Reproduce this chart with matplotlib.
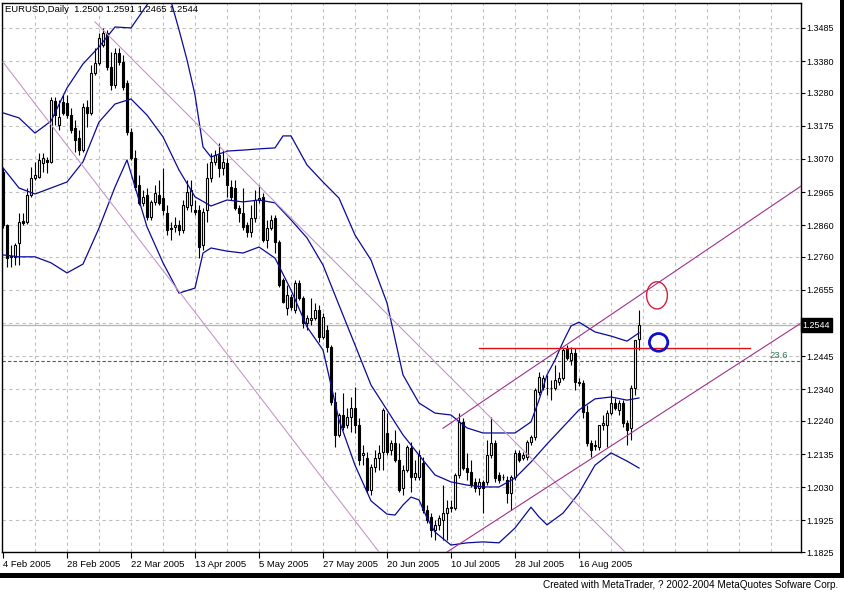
import matplotlib
matplotlib.use('Agg')
import matplotlib.pyplot as plt
from matplotlib.patches import Ellipse, Rectangle

plt.rcParams['font.family'] = ['Liberation Sans', 'DejaVu Sans']

# EURUSD daily, 4 Feb 2005 .. 25 Aug 2005 (bar index 0..159)
opens = [1.3029, 1.2861, 1.2760, 1.2760, 1.2804, 1.2874, 1.2870, 1.2956, 1.3010, 1.3013,
         1.3057, 1.3067, 1.3061, 1.3254, 1.3178, 1.3251, 1.3247, 1.3209, 1.3168, 1.3136,
         1.3098, 1.3235, 1.3216, 1.3342, 1.3374, 1.3431, 1.3469, 1.3361, 1.3304, 1.3406,
         1.3377, 1.3311, 1.3155, 1.3074, 1.2988, 1.2931, 1.2956, 1.2886, 1.2934, 1.2956,
         1.2946, 1.2899, 1.2851, 1.2855, 1.2861, 1.2845, 1.2918, 1.2924, 1.2909, 1.2909,
         1.2797, 1.2909, 1.3010, 1.3061, 1.3083, 1.3042, 1.3057, 1.2981, 1.2978, 1.2915,
         1.2899, 1.2861, 1.2839, 1.2883, 1.2940, 1.2949, 1.2813, 1.2851, 1.2883, 1.2807,
         1.2687, 1.2598, 1.2633, 1.2592, 1.2677, 1.2630, 1.2550, 1.2560, 1.2566, 1.2592,
         1.2506, 1.2528, 1.2474, 1.2300, 1.2196, 1.2259, 1.2227, 1.2252, 1.2281, 1.2227,
         1.2132, 1.2123, 1.2021, 1.2094, 1.2123, 1.2142, 1.2202, 1.2148, 1.2170, 1.2116,
         1.2028, 1.2085, 1.2154, 1.2063, 1.2063, 1.2107, 1.1958, 1.1936, 1.1895, 1.1910,
         1.1926, 1.1948, 1.1964, 1.1964, 1.2069, 1.2237, 1.2091, 1.2078, 1.2047, 1.2028,
         1.2047, 1.2047, 1.2132, 1.2170, 1.2069, 1.2063, 1.2053, 1.2012, 1.2063, 1.2139,
         1.2123, 1.2126, 1.2173, 1.2189, 1.2332, 1.2348, 1.2345, 1.2345, 1.2345, 1.2364,
         1.2376, 1.2471, 1.2433, 1.2455, 1.2364, 1.2360, 1.2268, 1.2170, 1.2164, 1.2158,
         1.2227, 1.2227, 1.2265, 1.2297, 1.2275, 1.2297, 1.2234, 1.2218, 1.2345, 1.2500]
highs = [1.3042, 1.2863, 1.2797, 1.2804, 1.2899, 1.2899, 1.2978, 1.3045, 1.3061, 1.3089,
         1.3089, 1.3077, 1.3266, 1.3266, 1.3257, 1.3273, 1.3273, 1.3231, 1.3194, 1.3162,
         1.3247, 1.3257, 1.3368, 1.3422, 1.3469, 1.3485, 1.3479, 1.3409, 1.3422, 1.3422,
         1.3399, 1.3320, 1.3168, 1.3098, 1.3019, 1.2972, 1.2978, 1.2940, 1.2988, 1.3004,
         1.3042, 1.2924, 1.2870, 1.2886, 1.2877, 1.2940, 1.3004, 1.3004, 1.2940, 1.2924,
         1.2915, 1.3057, 1.3089, 1.3098, 1.3121, 1.3098, 1.3074, 1.3004, 1.3004, 1.2924,
         1.2978, 1.2870, 1.2924, 1.2972, 1.2988, 1.2962, 1.2877, 1.2893, 1.2893, 1.2813,
         1.2693, 1.2671, 1.2642, 1.2687, 1.2687, 1.2636, 1.2576, 1.2630, 1.2614, 1.2607,
         1.2582, 1.2544, 1.2481, 1.2332, 1.2265, 1.2329, 1.2281, 1.2316, 1.2348, 1.2249,
         1.2164, 1.2142, 1.2105, 1.2148, 1.2164, 1.2281, 1.2265, 1.2180, 1.2211, 1.2170,
         1.2100, 1.2164, 1.2173, 1.2116, 1.2148, 1.2126, 1.1974, 1.1948, 1.1926, 1.1942,
         1.2037, 1.1990, 1.1990, 1.2075, 1.2265, 1.2249, 1.2139, 1.2116, 1.2059, 1.2059,
         1.2053, 1.2180, 1.2252, 1.2180, 1.2078, 1.2072, 1.2066, 1.2069, 1.2148, 1.2148,
         1.2142, 1.2180, 1.2196, 1.2345, 1.2395, 1.2386, 1.2386, 1.2370, 1.2417, 1.2395,
         1.2471, 1.2481, 1.2474, 1.2471, 1.2376, 1.2370, 1.2291, 1.2180, 1.2180, 1.2227,
         1.2259, 1.2275, 1.2338, 1.2313, 1.2306, 1.2306, 1.2243, 1.2354, 1.2497, 1.2591]
lows = [1.2851, 1.2728, 1.2728, 1.2734, 1.2734, 1.2861, 1.2864, 1.2949, 1.3004, 1.3010,
        1.3029, 1.3026, 1.3057, 1.3178, 1.3162, 1.3209, 1.3200, 1.3152, 1.3092, 1.3083,
        1.3092, 1.3172, 1.3209, 1.3336, 1.3368, 1.3425, 1.3352, 1.3289, 1.3295, 1.3368,
        1.3289, 1.3146, 1.3067, 1.2972, 1.2924, 1.2921, 1.2877, 1.2877, 1.2924, 1.2924,
        1.2893, 1.2830, 1.2813, 1.2839, 1.2830, 1.2836, 1.2909, 1.2902, 1.2893, 1.2756,
        1.2782, 1.2870, 1.2997, 1.3051, 1.3013, 1.3019, 1.2949, 1.2940, 1.2909, 1.2870,
        1.2845, 1.2823, 1.2823, 1.2870, 1.2931, 1.2807, 1.2788, 1.2845, 1.2772, 1.2664,
        1.2614, 1.2576, 1.2592, 1.2582, 1.2623, 1.2535, 1.2528, 1.2544, 1.2560, 1.2490,
        1.2500, 1.2459, 1.2291, 1.2158, 1.2189, 1.2211, 1.2218, 1.2205, 1.2202, 1.2100,
        1.2100, 1.2012, 1.2005, 1.2078, 1.2085, 1.2085, 1.2132, 1.2132, 1.2110, 1.2015,
        1.2005, 1.2078, 1.2015, 1.2053, 1.2053, 1.1948, 1.1917, 1.1872, 1.1863, 1.1895,
        1.1863, 1.1863, 1.1952, 1.1958, 1.2059, 1.2085, 1.2053, 1.2031, 1.2015, 1.2005,
        1.1948, 1.2037, 1.2123, 1.2047, 1.2044, 1.2053, 1.1980, 1.1958, 1.2053, 1.2110,
        1.2116, 1.2116, 1.2164, 1.2180, 1.2322, 1.2338, 1.2322, 1.2306, 1.2338, 1.2354,
        1.2370, 1.2433, 1.2417, 1.2338, 1.2351, 1.2249, 1.2161, 1.2126, 1.2148, 1.2148,
        1.2211, 1.2158, 1.2259, 1.2275, 1.2259, 1.2221, 1.2164, 1.2180, 1.2322, 1.2465]
closes = [1.2861, 1.2756, 1.2763, 1.2797, 1.2870, 1.2867, 1.2956, 1.3010, 1.3019, 1.3067,
          1.3074, 1.3061, 1.3257, 1.3209, 1.3203, 1.3216, 1.3209, 1.3162, 1.3130, 1.3098,
          1.3235, 1.3216, 1.3342, 1.3374, 1.3453, 1.3469, 1.3361, 1.3304, 1.3406, 1.3377,
          1.3298, 1.3155, 1.3074, 1.2981, 1.2931, 1.2949, 1.2886, 1.2934, 1.2962, 1.2931,
          1.2909, 1.2845, 1.2849, 1.2861, 1.2845, 1.2924, 1.2965, 1.2972, 1.2902, 1.2791,
          1.2902, 1.3010, 1.3061, 1.3083, 1.3042, 1.3061, 1.2988, 1.2949, 1.2915, 1.2899,
          1.2855, 1.2839, 1.2883, 1.2940, 1.2946, 1.2813, 1.2851, 1.2877, 1.2807, 1.2671,
          1.2617, 1.2639, 1.2601, 1.2677, 1.2630, 1.2550, 1.2566, 1.2566, 1.2592, 1.2506,
          1.2569, 1.2474, 1.2300, 1.2196, 1.2259, 1.2221, 1.2252, 1.2281, 1.2227, 1.2116,
          1.2139, 1.2021, 1.2094, 1.2123, 1.2139, 1.2275, 1.2142, 1.2170, 1.2116, 1.2021,
          1.2085, 1.2158, 1.2063, 1.2075, 1.2132, 1.1958, 1.1926, 1.1895, 1.1910, 1.1933,
          1.1948, 1.1964, 1.1967, 1.2069, 1.2237, 1.2091, 1.2078, 1.2037, 1.2028, 1.2047,
          1.2028, 1.2132, 1.2170, 1.2059, 1.2053, 1.2061, 1.2012, 1.2063, 1.2139, 1.2116,
          1.2132, 1.2173, 1.2189, 1.2338, 1.2379, 1.2376, 1.2343, 1.2343, 1.2370, 1.2376,
          1.2465, 1.2440, 1.2455, 1.2364, 1.2360, 1.2268, 1.2170, 1.2148, 1.2162, 1.2227,
          1.2234, 1.2265, 1.2297, 1.2281, 1.2297, 1.2234, 1.2211, 1.2345, 1.2497, 1.2544]

# Bollinger bands, read at selected bars
bb_up_idx = [0, 4, 8, 12, 16, 20, 24, 28, 32, 36, 40, 42, 44, 46, 48, 50, 52, 56, 60, 64, 68, 70, 72,
             76, 80, 84, 88, 92, 96, 100, 104, 108, 112, 116, 120, 124, 128, 132, 134, 136, 138,
             140, 142, 144, 148, 152, 156, 159]
bb_up = [1.3216, 1.3200, 1.3152, 1.3190, 1.3295, 1.3371, 1.3425, 1.3488, 1.3485, 1.3558, 1.3660,
         1.3570, 1.3479, 1.3384, 1.3273, 1.3108, 1.3076, 1.3095, 1.3098, 1.3102, 1.3105, 1.3143,
         1.3143, 1.3051, 1.2997, 1.2946, 1.2829, 1.2750, 1.2614, 1.2386, 1.2297, 1.2265, 1.2259,
         1.2218, 1.2202, 1.2202, 1.2202, 1.2237, 1.2306, 1.2386, 1.2433, 1.2490, 1.2541, 1.2553,
         1.2522, 1.2509, 1.2493, 1.2519]
bb_mid_idx = [0, 4, 8, 12, 16, 20, 24, 28, 32, 36, 40, 44, 48, 52, 56, 60, 64, 68, 72, 76, 80, 84,
              88, 92, 96, 100, 104, 108, 112, 116, 120, 124, 128, 132, 136, 140, 144, 148, 152, 156, 159]
bb_mid = [1.3042, 1.2978, 1.2959, 1.2978, 1.2997, 1.3061, 1.3187, 1.3244, 1.3260, 1.3209, 1.3140,
          1.3035, 1.2950, 1.2921, 1.2940, 1.2934, 1.2940, 1.2931, 1.2877, 1.2820, 1.2734, 1.2607,
          1.2481, 1.2354, 1.2275, 1.2196, 1.2132, 1.2069, 1.2047, 1.2037, 1.2031, 1.2031, 1.2059,
          1.2110, 1.2167, 1.2221, 1.2275, 1.2310, 1.2316, 1.2306, 1.2313]
bb_lo_idx = [0, 4, 8, 12, 16, 20, 24, 28, 31, 36, 40, 44, 48, 50, 52, 56, 60, 64, 68, 72, 76, 80, 82,
             84, 88, 92, 96, 98, 100, 102, 104, 106, 108, 112, 116, 120, 124, 128, 132, 134, 136,
             140, 144, 148, 152, 156, 159]
bb_lo = [1.2766, 1.2760, 1.2760, 1.2741, 1.2709, 1.2737, 1.2851, 1.2981, 1.3067, 1.2855, 1.2741,
         1.2645, 1.2661, 1.2772, 1.2788, 1.2778, 1.2772, 1.2791, 1.2756, 1.2655, 1.2538, 1.2465,
         1.2354, 1.2243, 1.2100, 1.1987, 1.1945, 1.1942, 1.1974, 1.1999, 1.1990, 1.1933, 1.1888,
         1.1847, 1.1854, 1.1857, 1.1854, 1.1901, 1.1967, 1.1936, 1.1911, 1.1948, 1.2012, 1.2100,
         1.2139, 1.2113, 1.2091]

# drawn objects: (bar, price) anchors
line_a = [(0, 1.3377), (94, 1.1825)]
line_b = [(23, 1.3504), (155.5, 1.1825)]
chan_top = [(110, 1.2217), (199.5, 1.2984)]
chan_bot = [(111, 1.1825), (199.5, 1.2550)]
red_level = 1.2471
red_from, red_to = 119, 186.75
fibo_236 = 1.2430
last_price = 1.2544

yticks = [1.3485, 1.3380, 1.3280, 1.3175, 1.3070, 1.2965, 1.2860, 1.2760, 1.2655,
          1.2445, 1.2340, 1.2240, 1.2135, 1.2030, 1.1925, 1.1825]
xtick_bars = [0, 16, 32, 48, 64, 80, 96, 112, 128, 144]
xtick_labels = ['4 Feb 2005', '28 Feb 2005', '22 Mar 2005', '13 Apr 2005', '5 May 2005',
                '27 May 2005', '20 Jun 2005', '10 Jul 2005', '28 Jul 2005', '16 Aug 2005']

W, H = 844, 593
fig = plt.figure(figsize=(W / 100, H / 100), dpi=100)
fig.patch.set_facecolor('white')
ax = fig.add_axes([2 / W, 1 - 552 / H, 799 / W, 549 / H])
ax.set_xlim(-0.25, 199.5)
ax.set_ylim(1.1825, 1.3564)

# grid
grid_kw = dict(color='#c0c0c0', lw=0.8, ls=(0, (3, 3)), zorder=0)
for b in range(8, 200, 8):
    ax.axvline(b, **grid_kw)
for p in yticks + [1.2550]:
    ax.axhline(p, **grid_kw)

ax.axhline(last_price, color='#b4b4b4', lw=0.9, zorder=1)
ax.axhline(fibo_236, color='#2f6f4f', lw=0.8, ls=(0, (3, 2)), zorder=1)
ax.text(196.2, fibo_236 + 0.0004, '23.6', color='#2f7a55', fontsize=6.8, ha='right', va='bottom')

# candles
n = len(closes)
idx = list(range(n))
ax.vlines(idx, lows, highs, color='black', lw=0.8, zorder=2)
up = [i for i in idx if closes[i] >= opens[i]]
dn = [i for i in idx if closes[i] < opens[i]]
ax.bar(up, [max(closes[i] - opens[i], 0.00015) for i in up], bottom=[opens[i] for i in up],
       width=0.55, facecolor='white', edgecolor='black', lw=0.8, zorder=3)
ax.bar(dn, [opens[i] - closes[i] for i in dn], bottom=[closes[i] for i in dn],
       width=0.55, facecolor='black', edgecolor='black', lw=0.8, zorder=3)

# bollinger bands
bb_col = '#0a0a9a'
ax.plot(bb_up_idx, bb_up, color=bb_col, lw=0.9, zorder=4)
ax.plot(bb_mid_idx, bb_mid, color=bb_col, lw=0.9, zorder=4)
ax.plot(bb_lo_idx, bb_lo, color=bb_col, lw=0.9, zorder=4)

# trend lines
for ln in (line_a, line_b):
    ax.plot([ln[0][0], ln[1][0]], [ln[0][1], ln[1][1]], color='#c896c8', lw=0.8, zorder=4)
for ln in (chan_top, chan_bot):
    ax.plot([ln[0][0], ln[1][0]], [ln[0][1], ln[1][1]], color='#a0308c', lw=0.8, zorder=4)
ax.plot([red_from, red_to], [red_level, red_level], color='#e01010', lw=1.0, zorder=4)

ax.add_patch(Ellipse((163.5, 1.2638), 5.2, 0.0086, fill=False, ec='#d02040', lw=1.0, zorder=5))
ax.add_patch(Ellipse((163.9, 1.2489), 4.6, 0.0056, fill=False, ec='#1010c8', lw=2.0, zorder=5))

# axes
for s in ax.spines.values():
    s.set_color('black')
    s.set_linewidth(1.0)
ax.yaxis.tick_right()
ax.set_yticks(yticks)
ax.set_yticklabels(['%.4f' % v for v in yticks])
ax.set_xticks(xtick_bars)
ax.set_xticklabels(xtick_labels, ha='left')
ax.tick_params(axis='y', direction='out', length=3, width=0.8, pad=1, labelsize=6.5)
ax.tick_params(axis='x', direction='out', length=4, width=0.8, pad=1.5, labelsize=6.8)

ax.text(1.002, last_price, '%.4f' % last_price, transform=ax.get_yaxis_transform(),
        color='white', fontsize=6.5, va='center', ha='left',
        bbox=dict(facecolor='black', edgecolor='black', pad=1.5))

fig.text(5 / W, 1 - 10 / H, 'EURUSD,Daily  1.2500 1.2591 1.2465 1.2544', fontsize=6.8,
         va='center', ha='left')
fig.text(838 / W, 1 - 585 / H, 'Created with MetaTrader, ? 2002-2004 MetaQuotes Sofware Corp.',
         fontsize=7.2, va='center', ha='right')

# black frame of the window
fig.patches.append(Rectangle((0, 1 - 578 / H), 1, 5 / H, transform=fig.transFigure,
                             facecolor='black', edgecolor='none'))
fig.patches.append(Rectangle((840 / W, 1 - 578 / H), 4 / W, 578 / H, transform=fig.transFigure,
                             facecolor='black', edgecolor='none'))

fig.savefig('out.png', dpi=100)
